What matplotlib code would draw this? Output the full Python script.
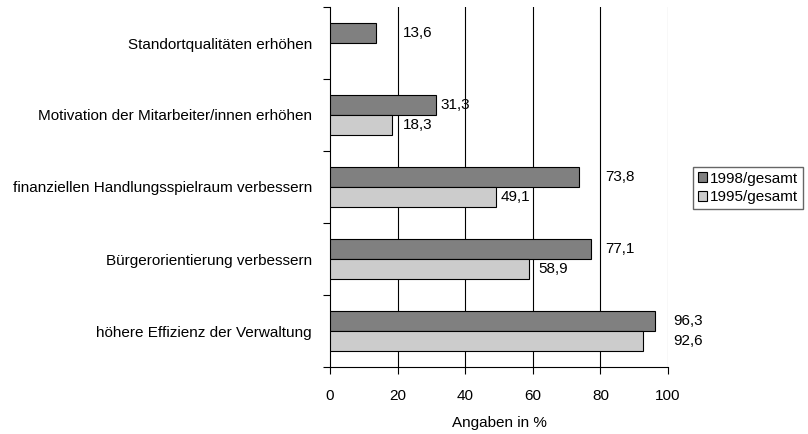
import numpy as np
import matplotlib
matplotlib.use("Agg")
import matplotlib.pyplot as plt

plt.rcParams['font.family'] = ['Liberation Sans', 'DejaVu Sans']

categories = ["Standortqualitäten erhöhen",
              "Motivation der Mitarbeiter/innen erhöhen",
              "finanziellen Handlungsspielraum verbessern",
              "Bürgerorientierung verbessern",
              "höhere Effizienz der Verwaltung"]
v1998 = [13.6, 31.3, 73.8, 77.1, 96.3]
v1995 = [np.nan, 18.3, 49.1, 58.9, 92.6]
series_names = ["1998/gesamt", "1995/gesamt"]
xticks = [0, 20, 40, 60, 80, 100]

FS = 11


def label_x(value, reach=6.5, pad=1.5):
	# push a label to the right of a gridline it would otherwise sit on
	start = value + pad
	for g in xticks[1:]:
		if value < g < start + reach:
			start = g + pad
	return start


fig = plt.figure(figsize=(8.08, 4.34), dpi=100)
ax = fig.add_axes([330 / 808, 1 - 367 / 434, 338 / 808, 360 / 434])

n = len(categories)
y = np.arange(n)[::-1].astype(float)
h = 0.28
b1 = ax.barh(y + h / 2, v1998, height=h, color='#808080', edgecolor='black', linewidth=0.8, label=series_names[0], zorder=3)
b2 = ax.barh(y - h / 2, v1995, height=h, color='#cccccc', edgecolor='black', linewidth=0.8, label=series_names[1], zorder=3)

for yy, v in zip(y + h / 2, v1998):
	ax.text(label_x(v), yy, f"{v:.1f}".replace('.', ','), va='center', ha='left', fontsize=FS, zorder=4)
for yy, v in zip(y - h / 2, v1995):
	if np.isnan(v):
		continue
	ax.text(label_x(v), yy, f"{v:.1f}".replace('.', ','), va='center', ha='left', fontsize=FS, zorder=4)

ax.set_xlim(0, 100)
ax.set_ylim(-0.5, n - 0.5)
ax.set_xticks(xticks)
ax.set_xticklabels([str(t) for t in xticks], fontsize=FS)
ax.tick_params(axis='x', direction='out', length=5, pad=11, width=0.8)
ax.set_yticks(np.arange(-0.5, n, 1.0))
ax.set_yticklabels([])
ax.set_yticks(y, minor=True)
ax.set_yticklabels(categories, minor=True, fontsize=FS)
ax.tick_params(axis='y', which='major', direction='out', length=5, width=0.8)
ax.tick_params(axis='y', which='minor', length=0, pad=13)
for g in xticks[1:-1]:
	ax.axvline(g, color='black', linewidth=0.8, zorder=1)
ax.axvline(100, color='#808080', linewidth=0.8, zorder=1)
ax.spines['top'].set_visible(False)
ax.spines['right'].set_visible(False)
ax.spines['left'].set_linewidth(0.8)
ax.spines['bottom'].set_linewidth(0.8)
ax.set_xlabel("Angaben in %", fontsize=FS, labelpad=9)

fig.legend(handles=[b1, b2], loc='center left', bbox_to_anchor=(693 / 808, 1 - 188 / 434),
	frameon=True, fancybox=False, edgecolor='#404040', fontsize=FS,
	handlelength=0.6, handleheight=0.6, handletextpad=0.2, borderpad=0.3,
	labelspacing=0.3, borderaxespad=0)

fig.savefig("out.png", dpi=100)
